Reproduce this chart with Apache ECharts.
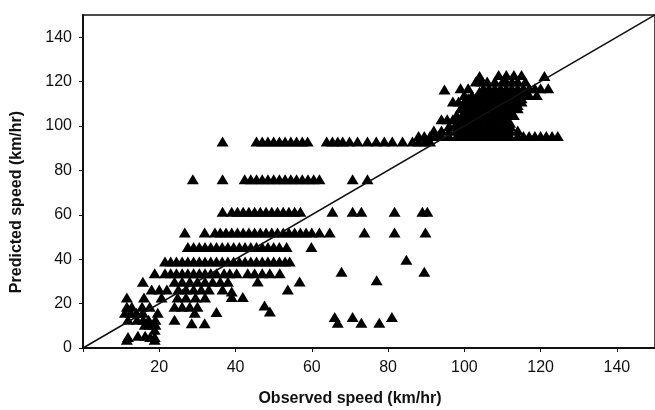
<!DOCTYPE html>
<html><head><meta charset="utf-8">
<script src="https://cdn.jsdelivr.net/npm/echarts@6/dist/echarts.min.js"></script>
<style>html,body{margin:0;padding:0;background:#fff}#c{width:655px;height:410px}</style>
</head><body><div id="c"></div>
<script>
// Axis ticks
var xTicks = [20, 40, 60, 80, 100, 120, 140];
var yTicks = [0, 20, 40, 60, 80, 100, 120, 140];
var axisMax = 150;

// Perfect-fit diagonal (observed = predicted)
var diagonal = [[0, 0], [150, 150]];

// [observed, predicted] points, grouped by band
var band93 = [[36.6,93],[45.5,93],[47,93],[48.5,93],[50,93],[51.5,93],[53,93],[54.5,93],[56,93],[57.5,93],[58.9,93],
  [63.9,93],[65.4,93],[66.8,93],[68.1,93],[69.9,93],[72,93],[74.6,93],[76.9,93],[79,93],[81.1,93],[83.8,93],
  [86.4,93],[88,93],[89.5,93],[91,93]];
var band76 = [[28.8,76],[36.6,76],[42.4,76],[44,76],[45.5,76],[47,76],[48.5,76],[50,76],[51.5,76],[53,76],[54.5,76],
  [56,76],[57.5,76],[59,76],[60.5,76],[62,76],[70.7,76],[74.6,76]];
var band61 = [[36.6,61.4],[39,61.4],[40.5,61.4],[42,61.4],[43.5,61.4],[45,61.4],[46.5,61.4],[48,61.4],[49.5,61.4],
  [51,61.4],[52.5,61.4],[54,61.4],[55.5,61.4],[57,61.4],[65.4,61.4],[70.7,61.4],[73,61.4],[81.7,61.4],[89,61.4],[90.3,61.4]];
var band52 = [[26.7,52],[31.9,52],[34.6,52],[36,52],[37.5,52],[39,52],[40.5,52],[42,52],[43.5,52],[45,52],[46.5,52],
  [48,52],[49.5,52],[51,52],[52.5,52],[54,52],[55.5,52],[57,52],[58.5,52],[60,52],[62,52],[64.7,52],[73.8,52],[81.7,52],[89.8,52]];
var band45 = [[27.5,45.5],[29,45.5],[30.5,45.5],[32,45.5],[33.5,45.5],[35,45.5],[36.5,45.5],[38,45.5],[39.5,45.5],
  [41,45.5],[42.5,45.5],[44,45.5],[45.5,45.5],[47,45.5],[48.5,45.5],[50,45.5],[51.5,45.5],[53.4,45.5],[59.9,45.5]];
var band39 = [[21.5,39],[23,39],[24.5,39],[26,39],[27.5,39],[29,39],[30.5,39],[32,39],[33.5,39],[35,39],[36.5,39],
  [38,39],[39.5,39],[41,39],[42.5,39],[44,39],[45.5,39],[47,39],[48.5,39],[50,39],[51.5,39],[53,39],[54.2,39],[84.8,39.8]];
var band33 = [[18.8,33.7],[21.5,33.7],[23,33.7],[24.5,33.7],[26,33.7],[27.5,33.7],[29,33.7],[30.5,33.7],[32,33.7],
  [33.5,33.7],[35,33.7],[37,33.7],[38.5,33.7],[40.3,33.7],[43.2,33.7],[45,33.7],[47,33.7],[49,33.7],[51.6,33.7],
  [67.8,34.4],[89.5,34.4]];
var lowCluster = [[15.7,29.8],[24,29.8],[26,29.8],[28,29.8],[30,29.8],[32,29.8],[34,29.8],[36,29.8],[38,29.8],[45.8,29.9],
  [56.8,29.9],[77,30.5],
  [18,26.3],[20,26.3],[22,26.3],[25,26.3],[27,26.3],[29,26.3],[31,26.3],[33,26.3],[36.6,26.3],[39,25.5],[53.7,26.3],
  [11.5,22.7],[16,22.7],[20.6,22.7],[24.8,22.7],[27,22.7],[29.5,22.7],[32,22.7],[39,23],[41.9,23],
  [11.5,18.6],[12.8,18.6],[15.5,18.6],[17.5,18.6],[24,18.6],[26,18.6],[28,18.6],[30,18.6],[47.6,19.2],
  [11,15.9],[12.5,15.9],[14,15.9],[15.7,15.9],[19.6,15.9],[29.3,15.9],[35,16.2],[49,16.4],
  [11.8,12.7],[14.2,12.7],[15.8,12.7],[17.2,12.7],[19,12.7],[24,12.7],
  [16.2,10.5],[17.5,10.5],[19,10.5],[28.5,11.2],[31.9,11.2],
  [18.8,8.2],[11.8,5],[14.4,5.5],[16.3,5.5],[17.6,5],[18.8,5],[11.5,3.7],[18.8,3.7]];
var lowRight = [[66,14],[66.8,11.4],[70.7,14],[73,11.4],[77.7,11.4],[81,14]];
var upperCluster = [[94.8,116.4],[104,122.5],[109,123],[111,123],[113,123],[115,123],[121,122.5],
  [103,120],[104.5,120],[106,120],[108,120],[110,120],[111,120],[112.5,120],[114,120],[116,120],
  [99,117],[101,117],[105,117],[106.5,117],[108,117],[109.5,117],[111,117],[112.5,117],[114,117],[115.5,117],
  [117,117],[118.5,117],[120,117],[122,117],
  [104,115.5],[106,115.5],[108,115.5],[110,115.5],[112,115.5],[114,115.5],[116,115.5],
  [100,114],[102,114],[104,114],[106,114],[107.5,114],[109,114],[110.5,114],[112,114],[113.5,114],[115,114],[117,114],[119,114],
  [101,112.5],[103,112.5],[105,112.5],[107,112.5],[109,112.5],[111,112.5],[113,112.5],[115,112.5],
  [97,111],[98.5,111],[100,111],[101.5,111],[103,111],[104.5,111],[106,111],[107.5,111],[109,111],[110.5,111],[112,111],[113.5,111],[115,111],
  [100,109.5],[102,109.5],[104,109.5],[106,109.5],[108,109.5],[110,109.5],[112,109.5],[114,109.5],
  [99,108],[101,108],[103,108],[104.5,108],[106,108],[107.5,108],[109,108],[110.5,108],[112,108],[114,108],
  [100,106.5],[102,106.5],[104,106.5],[106,106.5],[108,106.5],[110,106.5],[112,106.5],
  [98,105],[100,105],[102,105],[103.5,105],[105,105],[106.5,105],[108,105],[109.5,105],[111,105],[113,105],
  [94,103],[95.5,103],[97,103],[99,103],[101,103],[103,103],[105,103],[107,103],[109,103],[111,103],
  [98,101.5],[100,101.5],[102,101.5],[104,101.5],[106,101.5],[108,101.5],[110,101.5],[112,101.5],
  [96,100],[98,100],[100,100],[102,100],[104,100],[106,100],[108,100],[110,100],[112,100],
  [92,98],[94,98],[96,98],[98,98],[100,98],[102,98],[104,98],[106,98],[108,98],[110,98],[112,98],[114,98],
  [99,96.8],[101,96.8],[103,96.8],[105,96.8],[107,96.8],[109,96.8],[111,96.8],
  [88,95.5],[89.5,95.5],[91,95.5],[92.5,95.5],[94,95.5],[96,95.5],[98,95.5],[100,95.5],[102,95.5],[104,95.5],
  [106,95.5],[108,95.5],[110,95.5],[112,95.5],[114,95.5],[115.5,95.5],[117,95.5],[118.5,95.5],[120,95.5],
  [121.5,95.5],[123,95.5],[124.5,95.5]];

var allPoints = [].concat(band93, band76, band61, band52, band45, band39, band33, lowCluster, lowRight, upperCluster);

var chart = echarts.init(document.getElementById('c'), null, {renderer: 'canvas'});
var labelFont = {color: '#111', fontSize: 16, fontFamily: 'Liberation Sans, Arial, sans-serif'};
chart.setOption({
  animation: false,
  backgroundColor: '#fff',
  grid: {left: 83, top: 15, width: 575, height: 333, show: true, borderColor: '#111', borderWidth: 1.5, backgroundColor: 'transparent'},
  xAxis: {
    type: 'value', min: 0, max: axisMax, interval: 20,
    splitLine: {show: false},
    axisLine: {lineStyle: {color: '#111', width: 2}},
    axisTick: {show: true, length: 4, lineStyle: {color: '#111'}},
    axisLabel: Object.assign({margin: 12, showMaxLabel: false,
      formatter: function (v) { return xTicks.indexOf(v) >= 0 ? String(v) : ''; }}, labelFont)
  },
  yAxis: {
    type: 'value', min: 0, max: axisMax, interval: 20,
    splitLine: {show: false},
    axisLine: {lineStyle: {color: '#111', width: 2}},
    axisTick: {show: true, length: 4, lineStyle: {color: '#111'}},
    axisLabel: Object.assign({margin: 11, showMaxLabel: false,
      formatter: function (v) { return yTicks.indexOf(v) >= 0 ? String(v) : ''; }}, labelFont)
  },
  graphic: [
    {type: 'text', x: 350, y: 399, style: {text: 'Observed speed (km/hr)', font: 'bold 16px "Liberation Sans", Arial, sans-serif', fill: '#111', align: 'center', verticalAlign: 'middle'}},
    {type: 'text', x: 17, y: 202, rotation: Math.PI / 2, style: {text: 'Predicted speed (km/hr)', font: 'bold 16px "Liberation Sans", Arial, sans-serif', fill: '#111', align: 'center', verticalAlign: 'middle'}}
  ],
  series: [
    {type: 'line', data: diagonal, showSymbol: false, symbol: 'none', lineStyle: {color: '#111', width: 1.5}, z: 3},
    {type: 'scatter', data: allPoints, symbol: 'triangle', symbolSize: [12, 10], itemStyle: {color: '#000', opacity: 1}, z: 2}
  ]
});
</script></body></html>
